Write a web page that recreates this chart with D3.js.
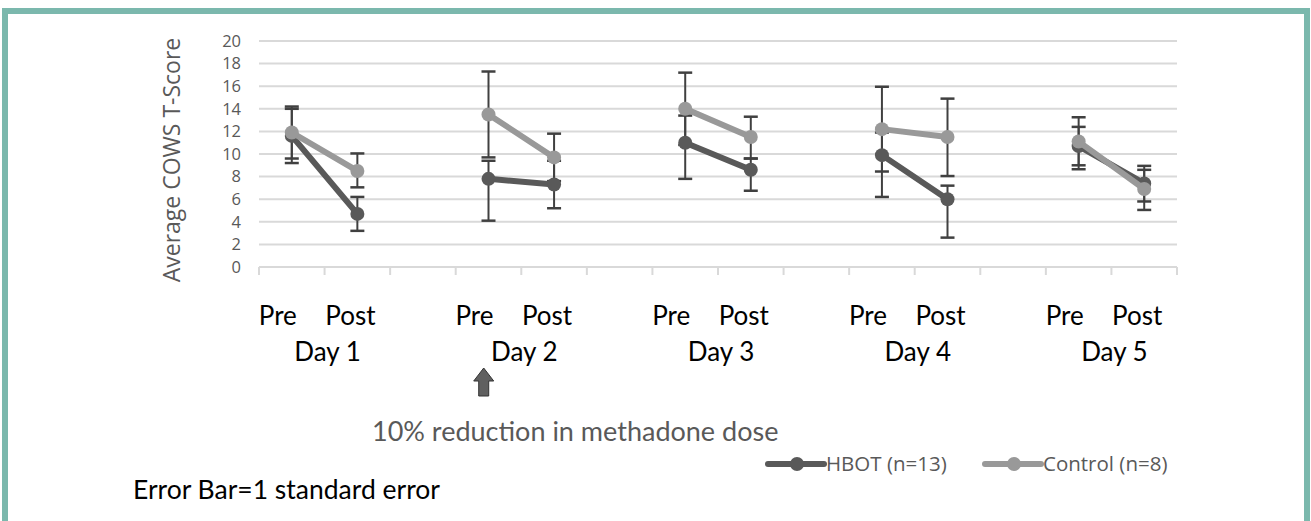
<!DOCTYPE html>
<html>
<head>
<meta charset="utf-8">
<script src="https://cdn.jsdelivr.net/npm/d3@7"></script>
<style>
  html, body { margin: 0; padding: 0; background: #fff; }
  svg { display: block; }
</style>
</head>
<body>
<div id="chart"></div>
<script>
var WIDTH = 1311, HEIGHT = 521;

// chart values
var days = ["Day 1", "Day 2", "Day 3", "Day 4", "Day 5"];
var phases = ["Pre", "Post"];
var yTicks = [0, 2, 4, 6, 8, 10, 12, 14, 16, 18, 20];

var hbot = [11.6, 4.7, 7.8, 7.3, 11.0, 8.6, 9.9, 6.0, 10.7, 7.4];
var hbotPlus = [2.4, 1.5, 1.6, 2.1, 2.4, 1.0, 2.0, 1.2, 1.7, 1.55];
var hbotMinus = [2.4, 1.5, 3.7, 2.1, 3.2, 1.85, 3.7, 3.4, 2.05, 1.6];

var control = [11.9, 8.5, 13.5, 9.7, 14.0, 11.5, 12.2, 11.5, 11.1, 6.9];
var controlPlus = [2.3, 1.55, 3.8, 2.1, 3.2, 1.8, 3.75, 3.4, 2.15, 1.7];
var controlMinus = [2.3, 1.45, 3.8, 2.1, 3.2, 1.9, 3.75, 3.45, 2.1, 1.85];

var series = [
    {name: "HBOT (n=13)", values: hbot, plus: hbotPlus, minus: hbotMinus, color: "#595959"},
    {name: "Control (n=8)", values: control, plus: controlPlus, minus: controlMinus, color: "#999999"}
];

var SVG = d3.select("#chart").append("svg")
    .attr("width", WIDTH)
    .attr("height", HEIGHT);

// frame (open at the bottom)
SVG.append("path")
    .attr("d", "M5," + HEIGHT + " V11 H1307 V" + HEIGHT)
    .attr("fill", "none")
    .attr("stroke", "#7bb8ad")
    .attr("stroke-width", 6);

// 5 days x (pre, post, gap) minus trailing gap = 14 slots
var slots = d3.range(days.length * 3 - 1);
var x = d3.scaleBand().domain(slots).range([259, 1177]);
var y = d3.scaleLinear().domain([0, 20]).range([267, 41]);

function slotOf(i) { return Math.floor(i / 2) * 3 + (i % 2); }
function cx(i) { return x(slotOf(i)) + x.bandwidth() / 2; }

var LAYER_GRID = SVG.append("g");
var LAYER_ERR = SVG.append("g");
var LAYER_SERIES = SVG.append("g");
var LAYER_TEXT = SVG.append("g");

// gridlines
LAYER_GRID.selectAll("line.grid").data(yTicks).enter().append("line")
    .attr("x1", 259).attr("x2", 1177)
    .attr("y1", function (d) { return y(d); })
    .attr("y2", function (d) { return y(d); })
    .attr("stroke", "#d9d9d9").attr("stroke-width", 2);

// category tick marks
var bounds = slots.map(function (s) { return x(s); }).concat([x.range()[1]]);
LAYER_GRID.selectAll("line.tick").data(bounds).enter().append("line")
    .attr("x1", function (d) { return d; }).attr("x2", function (d) { return d; })
    .attr("y1", y(0)).attr("y2", y(0) + 8)
    .attr("stroke", "#d9d9d9").attr("stroke-width", 2);

// y tick labels
LAYER_TEXT.selectAll("text.ytick").data(yTicks).enter().append("text")
    .attr("x", 241).attr("y", function (d) { return y(d); })
    .attr("dy", "0.35em")
    .attr("text-anchor", "end")
    .attr("font-family", "Open Sans, sans-serif")
    .attr("font-size", 16.5)
    .attr("fill", "#595959")
    .text(function (d) { return d; });

// y axis title
LAYER_TEXT.append("text")
    .attr("transform", "translate(172,160) rotate(-90)")
    .attr("text-anchor", "middle")
    .attr("dy", "0.35em")
    .attr("font-family", "Open Sans, sans-serif")
    .attr("font-size", 23)
    .attr("fill", "#595959")
    .text("Average COWS T-Score");

// error bars
series.forEach(function (s) {
    s.values.forEach(function (v, i) {
        var px = cx(i), top = y(v + s.plus[i]), bot = y(v - s.minus[i]);
        LAYER_ERR.append("line").attr("x1", px).attr("x2", px).attr("y1", top).attr("y2", bot)
            .attr("stroke", "#404040").attr("stroke-width", 2);
        [top, bot].forEach(function (yy) {
            LAYER_ERR.append("line").attr("x1", px - 7).attr("x2", px + 7).attr("y1", yy).attr("y2", yy)
                .attr("stroke", "#404040").attr("stroke-width", 2.5);
        });
    });
});

// lines and markers, one segment per day
var line = d3.line().x(function (d) { return cx(d.i); }).y(function (d) { return y(d.v); });
series.forEach(function (s) {
    var pts = s.values.map(function (v, i) { return {i: i, v: v}; });
    days.forEach(function (dname, di) {
        LAYER_SERIES.append("path")
            .attr("d", line(pts.slice(di * 2, di * 2 + 2)))
            .attr("fill", "none").attr("stroke", s.color).attr("stroke-width", 6)
            .attr("stroke-linecap", "round");
    });
    LAYER_SERIES.selectAll(null).data(pts).enter().append("circle")
        .attr("cx", function (d) { return cx(d.i); })
        .attr("cy", function (d) { return y(d.v); })
        .attr("r", 7).attr("fill", s.color);
});

// category labels
days.forEach(function (dname, di) {
    var pre = cx(di * 2), post = cx(di * 2 + 1);
    LAYER_TEXT.append("text").attr("x", pre - 14).attr("y", 325)
        .attr("text-anchor", "middle").attr("font-family", "Lato, sans-serif")
        .attr("font-size", 26).attr("fill", "#000").text(phases[0]);
    LAYER_TEXT.append("text").attr("x", post - 7).attr("y", 325)
        .attr("text-anchor", "middle").attr("font-family", "Lato, sans-serif")
        .attr("font-size", 26).attr("fill", "#000").text(phases[1]);
    LAYER_TEXT.append("text").attr("x", (pre + post) / 2 + 3).attr("y", 361)
        .attr("text-anchor", "middle").attr("font-family", "Lato, sans-serif")
        .attr("font-size", 26).attr("fill", "#000").text(dname);
});

// dose reduction arrow under day 2
var ax = x(slotOf(2)) + 28;
LAYER_TEXT.append("path")
    .attr("d", "M" + ax + ",368 l10,13 h-5 v15 h-10 v-15 h-5 z")
    .attr("fill", "#606060").attr("stroke", "#333").attr("stroke-width", 1);

LAYER_TEXT.append("text").attr("x", 372).attr("y", 441)
    .attr("font-family", "Lato, sans-serif").attr("font-size", 27)
    .attr("fill", "#595959").text("10% reduction in methadone dose");

LAYER_TEXT.append("text").attr("x", 133).attr("y", 499)
    .attr("font-family", "Lato, sans-serif").attr("font-size", 26.5)
    .attr("fill", "#000").text("Error Bar=1 standard error");

// legend
var legendX = [768, 985];
series.forEach(function (s, k) {
    var lx = legendX[k], ly = 464;
    var g = LAYER_TEXT.append("g");
    g.append("line").attr("x1", lx).attr("x2", lx + 56).attr("y1", ly).attr("y2", ly)
        .attr("stroke", s.color).attr("stroke-width", 6).attr("stroke-linecap", "round");
    g.append("circle").attr("cx", lx + 29).attr("cy", ly).attr("r", 7).attr("fill", s.color);
    g.append("text").attr("x", lx + 58).attr("y", ly).attr("dy", "0.35em")
        .attr("font-family", "Open Sans, sans-serif").attr("font-size", 20.5)
        .attr("fill", "#595959").text(s.name);
});
</script>
</body>
</html>
